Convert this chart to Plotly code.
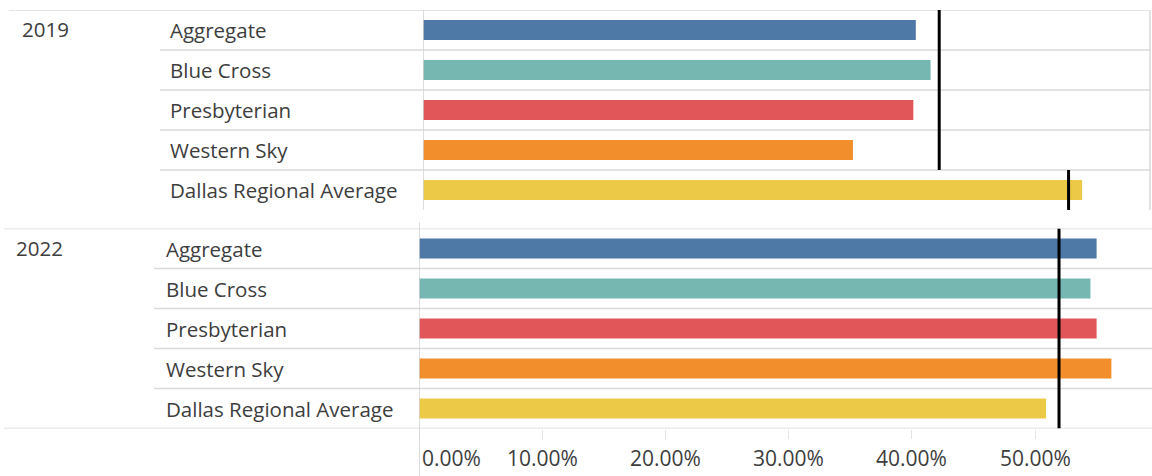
import plotly.graph_objects as go

W, H = 1152, 476

# ---------------- data ----------------
categories = ["Aggregate", "Blue Cross", "Presbyterian", "Western Sky", "Dallas Regional Average"]
bar_colors = ["#4e79a7", "#76b7b2", "#e15759", "#f28e2b", "#edc948"]
years = ["2019", "2022"]
values_2019 = [0.400, 0.412, 0.398, 0.349, 0.535]
values_2022 = [0.550, 0.545, 0.550, 0.562, 0.509]
ref_2019_plans = 0.419     # reference line across the plan rows in 2019
ref_2019_dallas = 0.524    # reference line on the Dallas row in 2019
ref_2022 = 0.5195          # reference line across all rows in 2022
tick_values = [0.0, 0.1, 0.2, 0.3, 0.4, 0.5]
tick_labels = ["0.00%", "10.00%", "20.00%", "30.00%", "40.00%", "50.00%"]

# ---------------- layout helpers ----------------
FONT = "Open Sans"
TXT = "#3d3d3d"
GRID = "#dadada"
PX_PER_UNIT = 1232.0       # pixels per 100%
LABEL_SIZE = 20.5
TICK_SIZE = 21


def px(x):
    return x / W


def py(y):
    return 1 - y / H


top_x0, top_x1 = 423, 1150
bot_x0, bot_x1 = 419, 1152
top_y0, top_y1 = 10, 210
bot_y0, bot_y1 = 228.5, 428.5

rows = list(range(len(categories)))

fig = go.Figure()
fig.add_trace(go.Bar(x=values_2019, y=rows, orientation="h", width=0.5,
                     marker=dict(color=bar_colors, line=dict(width=0)),
                     xaxis="x", yaxis="y", hoverinfo="skip", showlegend=False))
fig.add_trace(go.Bar(x=values_2022, y=rows, orientation="h", width=0.5,
                     marker=dict(color=bar_colors, line=dict(width=0)),
                     xaxis="x2", yaxis="y2", hoverinfo="skip", showlegend=False))

shapes = []
annotations = []

# --- grid / border lines ---
n = len(categories)
# top panel
shapes.append(dict(type="line", xref="paper", yref="y", x0=px(9), x1=px(top_x1), y0=-0.5, y1=-0.5,
                   line=dict(color=GRID, width=1.5)))
for i in range(n - 1):
    shapes.append(dict(type="line", xref="paper", yref="y", x0=px(160), x1=px(top_x1),
                       y0=i + 0.5, y1=i + 0.5, line=dict(color=GRID, width=1.5)))
shapes.append(dict(type="line", xref="x", yref="y domain", x0=0, x1=0, y0=0, y1=1,
                   line=dict(color="#d2d2d2", width=1.5)))
shapes.append(dict(type="line", xref="x domain", yref="y domain", x0=1, x1=1, y0=0, y1=1,
                   line=dict(color=GRID, width=1.5)))
# bottom panel
for yy in (-0.5, n - 0.5):
    shapes.append(dict(type="line", xref="paper", yref="y2", x0=px(4), x1=1, y0=yy, y1=yy,
                       line=dict(color=GRID, width=1.5)))
for i in range(n - 1):
    shapes.append(dict(type="line", xref="paper", yref="y2", x0=px(154), x1=1,
                       y0=i + 0.5, y1=i + 0.5, line=dict(color=GRID, width=1.5)))
shapes.append(dict(type="line", xref="x2", yref="paper", x0=0, x1=0, y0=0, y1=py(222),
                   line=dict(color="#d2d2d2", width=1.5)))

# --- reference lines ---
shapes.append(dict(type="line", xref="x", yref="y", x0=ref_2019_plans, x1=ref_2019_plans,
                   y0=-0.5, y1=n - 1.5, line=dict(color="black", width=3)))
shapes.append(dict(type="line", xref="x", yref="y", x0=ref_2019_dallas, x1=ref_2019_dallas,
                   y0=n - 1.5, y1=n - 0.5, line=dict(color="black", width=3)))
shapes.append(dict(type="line", xref="x2", yref="y2", x0=ref_2022, x1=ref_2022,
                   y0=-0.5, y1=n - 0.5, line=dict(color="black", width=3)))

# --- row labels ---
for i, c in enumerate(categories):
    annotations.append(dict(text=c, xref="paper", yref="y", x=px(168), y=i, xanchor="left",
                            yanchor="middle", showarrow=False,
                            font=dict(family=FONT, size=LABEL_SIZE, color=TXT)))
    annotations.append(dict(text=c, xref="paper", yref="y2", x=px(164), y=i, xanchor="left",
                            yanchor="middle", showarrow=False,
                            font=dict(family=FONT, size=LABEL_SIZE, color=TXT)))
annotations.append(dict(text=years[0], xref="paper", yref="y", x=px(20), y=0, xanchor="left",
                        yanchor="middle", yshift=1, showarrow=False,
                        font=dict(family=FONT, size=LABEL_SIZE, color=TXT)))
annotations.append(dict(text=years[1], xref="paper", yref="y2", x=px(14), y=0, xanchor="left",
                        yanchor="middle", yshift=1, showarrow=False,
                        font=dict(family=FONT, size=LABEL_SIZE, color=TXT)))

# --- axis tick labels ---
for v, t in zip(tick_values, tick_labels):
    annotations.append(dict(text=t, xref="x2", yref="paper", x=v, y=py(458),
                            xanchor="left" if v == tick_values[0] else "center",
                            xshift=1 if v == tick_values[0] else 0,
                            yanchor="middle", showarrow=False,
                            font=dict(family=FONT, size=TICK_SIZE, color=TXT)))

fig.update_layout(
    width=W, height=H,
    margin=dict(l=0, r=0, t=0, b=0),
    paper_bgcolor="white", plot_bgcolor="rgba(0,0,0,0)",
    showlegend=False,
    xaxis=dict(domain=[px(top_x0), px(top_x1)], range=[0, (top_x1 - top_x0) / PX_PER_UNIT],
               showgrid=False, zeroline=False, showline=False, showticklabels=False, ticks="",
               fixedrange=True),
    yaxis=dict(domain=[py(top_y1), py(top_y0)], range=[n - 0.5, -0.5], showgrid=False,
               zeroline=False, showline=False, showticklabels=False, ticks="", fixedrange=True),
    xaxis2=dict(domain=[px(bot_x0), px(bot_x1)], range=[0, (bot_x1 - bot_x0) / PX_PER_UNIT],
                anchor="y2", showgrid=False, zeroline=False, showline=False, showticklabels=False,
                ticks="outside", ticklen=9, tickwidth=1, tickcolor="#e2e2e2",
                tickvals=tick_values, fixedrange=True),
    yaxis2=dict(domain=[py(bot_y1), py(bot_y0)], range=[n - 0.5, -0.5], anchor="x2", showgrid=False,
                zeroline=False, showline=False, showticklabels=False, ticks="", fixedrange=True),
    shapes=shapes,
    annotations=annotations,
)

fig.write_html("out.html", config={"displayModeBar": False},
               post_script="document.body.style.margin='0';document.body.style.overflow='hidden';")
